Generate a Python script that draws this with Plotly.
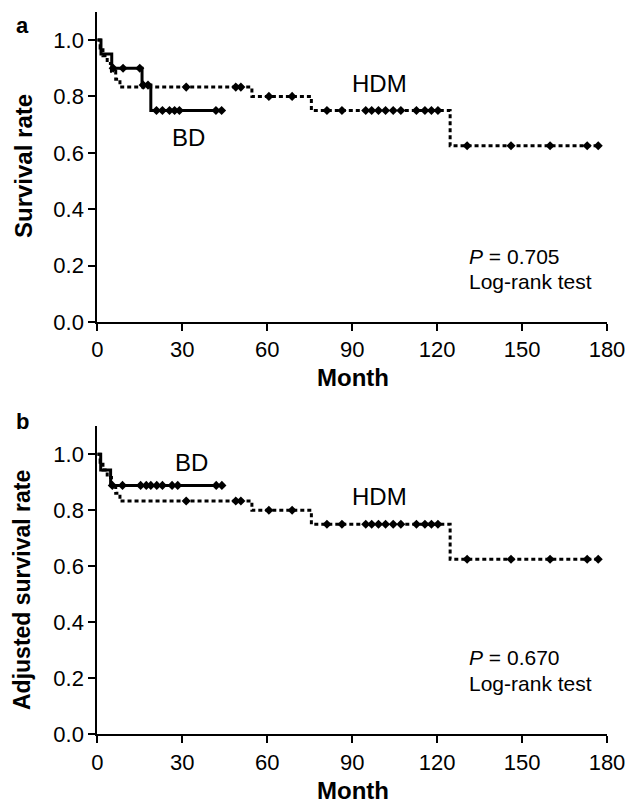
import plotly.graph_objects as go

# page has an 8px body margin, so the figure is laid out in screen pixels minus 8
OFF = 8
W, H = 633 - OFF, 805 - OFF

# ---------------- data ----------------
# Panel a
a_bd_time = [0, 1.3, 5.1, 15.8, 18.9, 43.9]
a_bd_surv = [1.0, 0.95, 0.90, 0.84, 0.75, 0.75]
a_bd_cens = [5.6, 9.1, 15.0, 16.2, 17.9, 20.9, 23.0, 25.5, 27.3, 29.0, 41.9, 43.9]

a_hdm_time = [0, 1.0, 2.0, 3.5, 5.0, 6.5, 8.0, 54.6, 75.6, 124.6, 176.9]
a_hdm_surv = [1.0, 0.972, 0.944, 0.917, 0.889, 0.861, 0.833, 0.80, 0.75, 0.625, 0.625]
a_hdm_cens = [31.4, 48.9, 50.7, 60.6, 68.8, 81.1, 86.4, 94.8, 96.9, 99.3, 101.8,
              104.5, 107.2, 112.7, 115.7, 118.0, 120.3, 130.6, 146.1, 159.9, 173.0, 176.9]

# Panel b
b_bd_time = [0, 1.2, 4.7, 44.0]
b_bd_surv = [1.0, 0.944, 0.889, 0.889]
b_bd_cens = [5.3, 8.9, 15.3, 17.3, 18.9, 21.0, 23.0, 26.4, 28.4, 42.0, 44.0]

b_hdm_time = [0, 1.0, 2.0, 3.5, 5.0, 6.5, 8.0, 54.6, 75.6, 124.6, 176.9]
b_hdm_surv = [1.0, 0.972, 0.944, 0.917, 0.889, 0.861, 0.833, 0.80, 0.75, 0.625, 0.625]
b_hdm_cens = [31.4, 48.9, 50.7, 60.6, 68.8, 81.1, 86.4, 94.8, 96.9, 99.3, 101.8,
              104.5, 107.2, 112.7, 115.7, 118.0, 120.3, 130.6, 146.1, 159.9, 173.0, 176.9]

x_ticks = [0, 30, 60, 90, 120, 150, 180]
y_ticks = [0.0, 0.2, 0.4, 0.6, 0.8, 1.0]


def step_value(times, surv, t):
    v = surv[0]
    for ti, si in zip(times, surv):
        if ti <= t:
            v = si
    return v


def px(x):
    return (x - OFF) / W


def py(y):
    return 1 - (y - OFF) / H


FONT = "Liberation Sans, Arial, sans-serif"
fig = go.Figure()


def add_curve(times, surv, cens, dash, xa, ya):
    line = dict(color="black", width=3)
    if dash:
        line["dash"] = "4px,3px"
    fig.add_trace(go.Scatter(x=times, y=surv, mode="lines", line=line,
                             line_shape="hv", xaxis=xa, yaxis=ya,
                             showlegend=False, hoverinfo="skip"))
    fig.add_trace(go.Scatter(x=cens, y=[step_value(times, surv, t) for t in cens],
                             mode="markers",
                             marker=dict(symbol="diamond", size=7, color="black"),
                             xaxis=xa, yaxis=ya, showlegend=False, hoverinfo="skip"))


add_curve(a_hdm_time, a_hdm_surv, a_hdm_cens, True, "x", "y")
add_curve(a_bd_time, a_bd_surv, a_bd_cens, False, "x", "y")
add_curve(b_hdm_time, b_hdm_surv, b_hdm_cens, True, "x2", "y2")
add_curve(b_bd_time, b_bd_surv, b_bd_cens, False, "x2", "y2")

axis_common = dict(showline=True, linecolor="black", linewidth=2, ticks="outside",
                   ticklen=7, tickwidth=2, tickcolor="black", showgrid=False,
                   zeroline=False, automargin=False,
                   tickfont=dict(family=FONT, size=22, color="black"))

xdom = [px(97.3), px(607)]
fig.update_layout(
    width=W, height=H,
    margin=dict(l=0, r=0, t=0, b=0, pad=0),
    paper_bgcolor="white", plot_bgcolor="white",
    xaxis=dict(domain=xdom, range=[0, 180], tickvals=x_ticks, anchor="y",
               **axis_common),
    yaxis=dict(domain=[py(322), py(322 - 1.1 * 282)], range=[0, 1.1],
               tickvals=y_ticks, tickformat=".1f", anchor="x", **axis_common),
    xaxis2=dict(domain=xdom, range=[0, 180], tickvals=x_ticks, anchor="y2",
                **axis_common),
    yaxis2=dict(domain=[py(734.3), py(734.3 - 1.1 * 280)], range=[0, 1.1],
                tickvals=y_ticks, tickformat=".1f", anchor="x2", **axis_common),
)


def ann(text, x, y, size, bold=False, xanchor="center", angle=0):
    if bold:
        text = "<b>" + text + "</b>"
    fig.add_annotation(text=text, x=px(x), y=py(y), xref="paper", yref="paper",
                       showarrow=False, xanchor=xanchor, yanchor="middle",
                       textangle=angle, borderpad=0,
                       font=dict(family=FONT, size=size, color="black"))


# Panel a texts
ann("a", 22, 25, 22, bold=True)
ann("Survival rate", 23, 166, 24, bold=True, angle=-90)
ann("Month", 353, 377, 24, bold=True)
ann("HDM", 380, 84, 24)
ann("BD", 188, 138, 24)
ann("<i>P</i> = 0.705", 468, 256, 21, xanchor="left")
ann("Log-rank test", 468, 281, 21, xanchor="left")

# Panel b texts
ann("b", 22, 422, 22, bold=True)
ann("Adjusted survival rate", 22, 590, 23, bold=True, angle=-90)
ann("Month", 353, 790, 24, bold=True)
ann("HDM", 380, 496, 24)
ann("BD", 191, 462, 24)
ann("<i>P</i> = 0.670", 468, 657, 21, xanchor="left")
ann("Log-rank test", 468, 683, 21, xanchor="left")

fig.write_html("out.html")
